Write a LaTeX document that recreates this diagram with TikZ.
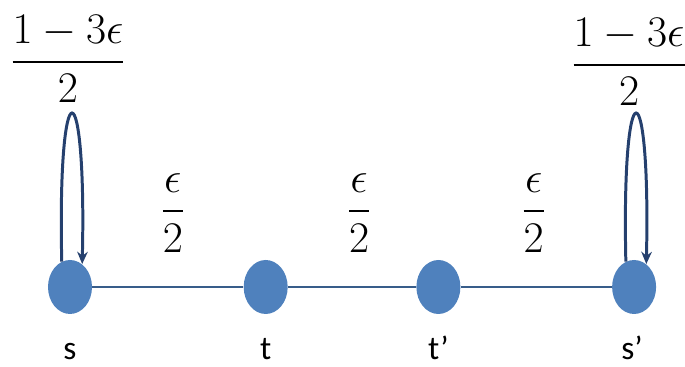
\documentclass[tikz,border=0pt]{standalone}
\usepackage{amsmath}
\usepackage{fontspec}
\setmainfont{Carlito}
\usepackage{tikz}
\usetikzlibrary{shapes,shapes.geometric,arrows,arrows.meta,positioning,calc}
\definecolor{statefill}{RGB}{79,129,189}
\definecolor{edgeblue}{RGB}{56,93,138}
\definecolor{loopblue}{RGB}{37,64,110}

\begin{document}
\begin{tikzpicture}[
    every node/.style={font=\fontsize{19}{22}\selectfont},
    stnode/.style={ellipse, fill=statefill, draw=none,
                  minimum width=0.88cm, minimum height=1.08cm, inner sep=0pt},
    stlabel/.style={inner sep=0pt, anchor=base},
    prob/.style={inner sep=0pt, text=black, font=\fontsize{28}{32}\selectfont},
    line/.style={-, line width=1.1pt, color=edgeblue},
    selfloop/.style={-{Stealth[length=7pt, width=6pt]}, line width=1.7pt, color=loopblue}
]
\useasboundingbox (0,0) rectangle (13.7,7.34);

% States
\node[stnode] (s) at (1.4,1.6) {};
\node[stnode, right=3.02cm of s]  (t)  {};
\node[stnode, right=2.56cm of t]  (tp) {};
\node[stnode, right=3.02cm of tp] (sp) {};

% State names
\node[stlabel] at ($(s)+(0,-1.45)$)  (sname)  {s};
\node[stlabel] at ($(t)+(0,-1.45)$)  (tname)  {t};
\node[stlabel] at ($(tp)+(0,-1.45)$) (tpname) {t’};
\node[stlabel] at ($(sp)+(-0.04,-1.45)$) (spname) {s’};

% Transitions
\draw[line] (s) -- node[prob, midway, yshift=1.48cm, xshift=0.1cm]{$\dfrac{\epsilon}{2}$} (t);
\draw[line] (t) -- node[prob, midway, yshift=1.48cm, xshift=0.14cm]{$\dfrac{\epsilon}{2}$} (tp);
\draw[line] (tp) -- node[prob, midway, yshift=1.48cm, xshift=-0.05cm]{$\dfrac{\epsilon}{2}$} (sp);

% Self loops
\draw[selfloop] (s.108) .. controls +(-0.09,3.97) and +(0.09,3.97) .. (s.62);
\draw[selfloop] (sp.108) .. controls +(-0.09,3.97) and +(0.09,3.97) .. (sp.62);

% Loop probabilities
\node[prob] at ($(s)+(-0.04,4.56)$) (sfrac) {$\dfrac{1-3\epsilon}{2}$};
\node[prob] at ($(sp)+(-0.1,4.5)$) (spfrac) {$\dfrac{1-3\epsilon}{2}$};

\end{tikzpicture}
\end{document}
